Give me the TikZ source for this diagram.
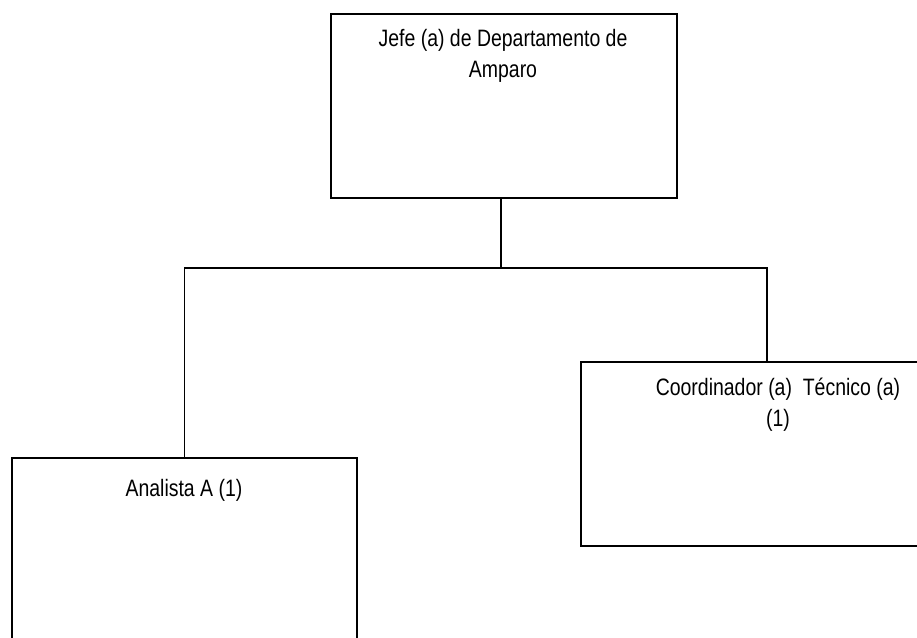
\documentclass[tikz,border=0pt]{standalone}
\usepackage{fontspec}
\setmainfont{Liberation Sans}[FakeStretch=0.82]
\usepackage{tikz}

\tikzset{
  cargo/.style={draw, line width=1.3pt, rectangle, inner sep=0pt},
  puesto/.style={align=center, inner sep=0pt, font=\fontsize{17.8pt}{23.5pt}\selectfont},
  conn/.style={line width=1.2pt}
}

\begin{document}
\begin{tikzpicture}[x=0.75pt, y=-0.75pt]
\clip (0,0) rectangle (917,637);
\node[cargo, minimum width=259.5pt, minimum height=138pt] (jefe) at (504,106) {};
\node[cargo, minimum width=258.75pt, minimum height=138pt] (analista) at (184.5,550) {};
\node[cargo, minimum width=279pt, minimum height=138pt] (coord) at (767,454) {};

\node[puesto] (tjefe) at (503,56) {Jefe (a) de Departamento de\\Amparo};
\node[puesto] (tanalista) at (184,490) {Analista A (1)};
\node[puesto] (tcoord) at (778,405) {Coordinador (a)\ \ Técnico (a)\\(1)};

\coordinate (bus) at (501,268);
\draw[conn] (jefe.south -| bus) -- (bus);
\draw[conn] (analista.north) |- (bus) -| (coord.north);
\end{tikzpicture}
\end{document}
